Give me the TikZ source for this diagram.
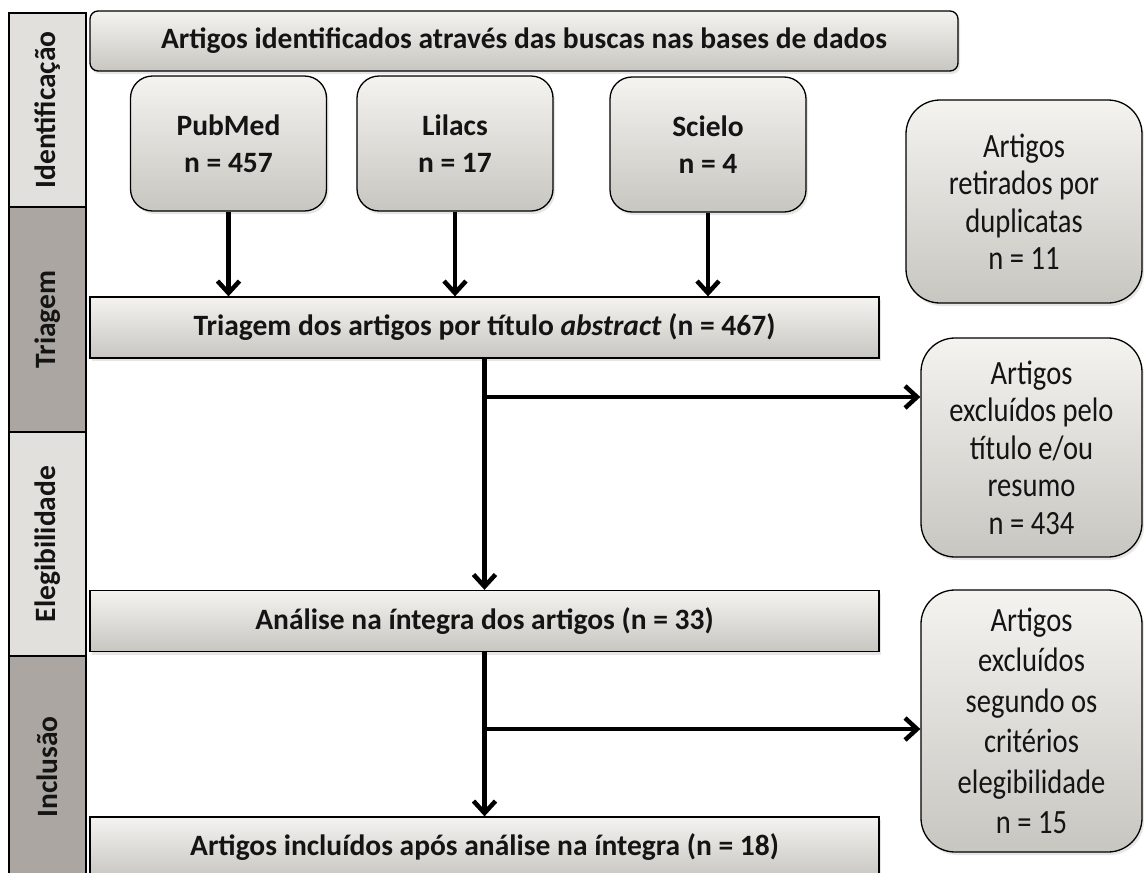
\documentclass[tikz,border=0pt]{standalone}
\usepackage{fontspec}
\setmainfont{Carlito}
\newfontfamily\sidefont{Carlito}[FakeStretch=0.84]
\usetikzlibrary{arrows.meta,shadows}

\definecolor{phaselight}{RGB}{225,224,220}
\definecolor{phasedark}{RGB}{171,166,161}
\definecolor{boxtop}{RGB}{244,243,239}
\definecolor{boxbot}{RGB}{200,198,193}
\definecolor{ink}{RGB}{20,20,20}

\newcommand{\bigfont}{\fontsize{29.5}{37}\selectfont}

\begin{document}
\begin{tikzpicture}
	[x=1pt, y=-1pt,
	 phase/.style={draw, line width=1.2pt, rotate=90, minimum height=77pt, inner sep=0pt, text=ink, font=\bigfont\bfseries},
	 box/.style={draw, line width=1.3pt, top color=boxtop, bottom color=boxbot, text=ink, inner sep=0pt, align=center,
	 	drop shadow={shadow xshift=2pt, shadow yshift=-3pt, opacity=0.2}},
	 head/.style={box, rounded corners=8pt, minimum width=868pt, minimum height=60pt, font=\bigfont\bfseries},
	 source/.style={box, rounded corners=22pt, minimum width=196pt, minimum height=135pt, font=\bigfont\bfseries},
	 stepbox/.style={box, minimum width=789pt, minimum height=61pt, font=\bigfont\bfseries},
	 side/.style={box, rounded corners=34pt, minimum width=221pt, font=\sidefont\fontsize{34}{37.5}\selectfont},
	 flow/.style={line width=4.5pt, -{Straight Barb[length=12pt, width=22pt]}}]
	\clip (0,0) rectangle (1144,873);

	% fases
	\node[phase, fill=phaselight, minimum width=194pt] (pid) at (47.5, 110) {Identificação};
	\node[phase, fill=phasedark, minimum width=225pt] (ptri) at (47.5, 319.5) {Triagem};
	\node[phase, fill=phaselight, minimum width=224pt] (pele) at (47.5, 544) {Elegibilidade};
	\node[phase, fill=phasedark, minimum width=222pt] (pinc) at (47.5, 767) {Inclusão};

	% identificacao
	\node[head] (busca) at (524, 41) {Artigos identificados através das buscas nas bases de dados};
	\node[source] (pubmed) at (228.5, 143.5) {PubMed\\n = 457};
	\node[source] (lilacs) at (455, 143.5) {Lilacs\\n = 17};
	\node[source] (scielo) at (708, 144.5) {Scielo\\n = 4};
	\node[side, minimum width=236pt, minimum height=203pt] (dup) at (1024, 201.5) {Artigos\\retirados por\\duplicatas\\n = 11};

	% triagem e analise
	\node[stepbox] (triagem) at (484.5, 327.5) {Triagem dos artigos por título \textit{abstract} (n = 467)};
	\node[stepbox] (analise) at (484.5, 621) {Análise na íntegra dos artigos (n = 33)};
	\node[stepbox] (incl) at (484.5, 847.5) {Artigos incluídos após análise na íntegra (n = 18)};

	\node[side, minimum height=219pt] (exc1) at (1031.5, 447.5) {Artigos\\excluídos pelo\\título e/ou\\resumo\\n = 434};
	\node[side, minimum height=262pt, font=\sidefont\fontsize{34}{40.5}\selectfont] (exc2) at (1031.5, 721) {Artigos\\excluídos\\segundo os\\critérios\\elegibilidade\\n = 15};

	\coordinate (b1) at (484.5, 397);
	\coordinate (b2) at (484.5, 729);

	% setas
	\draw[flow] (pubmed.south) -- (pubmed.south |- triagem.north);
	\draw[flow] (lilacs.south) -- (lilacs.south |- triagem.north);
	\draw[flow] (scielo.south) -- (scielo.south |- triagem.north);
	\draw[flow] (triagem.south) -- (analise.north);
	\draw[flow] (b1) -- (b1 -| exc1.west);
	\draw[flow] (analise.south) -- (incl.north);
	\draw[flow] (b2) -- (b2 -| exc2.west);
\end{tikzpicture}
\end{document}
